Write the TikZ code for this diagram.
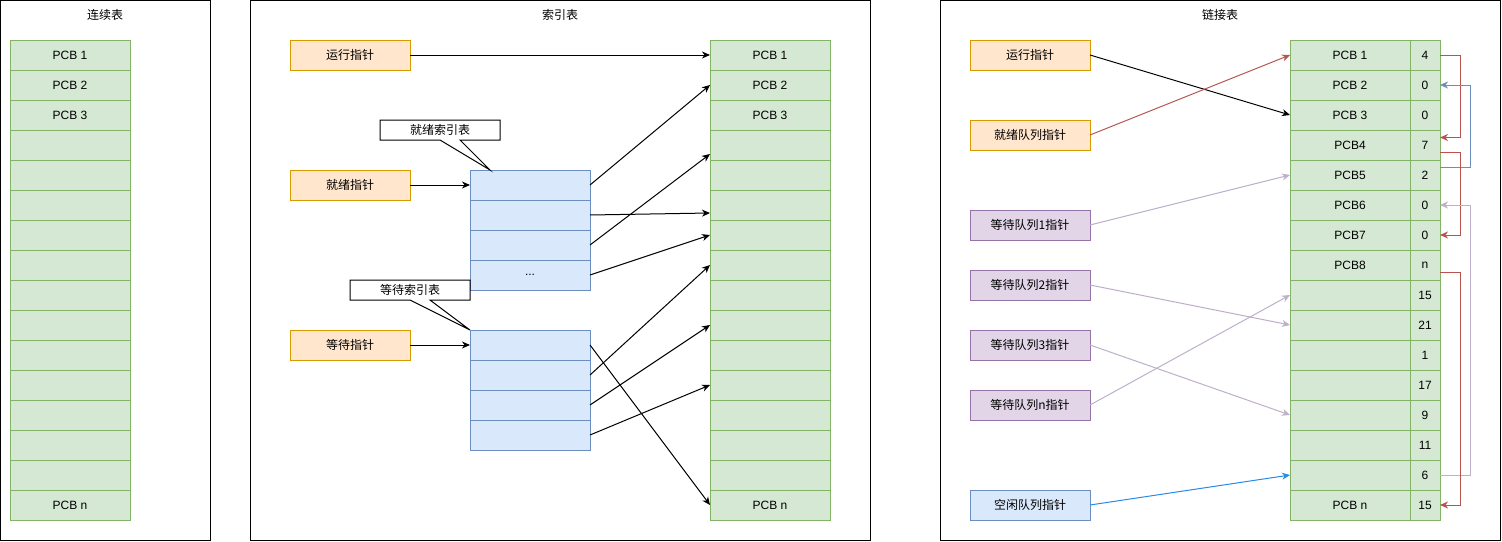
\documentclass[tikz,border=0pt]{standalone}
\usepackage{fontspec}
\setmainfont{Liberation Sans}
\newfontfamily\cjk{Noto Sans CJK SC}
\usetikzlibrary{arrows.meta,calc}
\definecolor{gfill}{HTML}{D5E8D4}
\definecolor{gline}{HTML}{82B366}
\definecolor{ofill}{HTML}{FFE6CC}
\definecolor{oline}{HTML}{D79B00}
\definecolor{pfill}{HTML}{E1D5E7}
\definecolor{pline}{HTML}{9673A6}
\definecolor{bfill}{HTML}{DAE8FC}
\definecolor{bline}{HTML}{6C8EBF}
\definecolor{redc}{HTML}{B85450}
\definecolor{lavc}{RGB}{190,176,202}
\definecolor{freec}{RGB}{40,140,230}
\tikzset{
  panel/.style={draw=black, line width=1pt, fill=white, inner sep=0, outer sep=0, minimum height=540},
  cell/.style={draw=gline, fill=gfill, line width=1pt, inner sep=0, outer sep=0, minimum width=120, minimum height=30},
  vcell/.style={cell, minimum width=30},
  ptr/.style={line width=1pt, inner sep=0, outer sep=0, minimum width=120, minimum height=30},
  optr/.style={ptr, draw=oline, fill=ofill},
  pptr/.style={ptr, draw=pline, fill=pfill},
  bptr/.style={ptr, draw=bline, fill=bfill},
  icell/.style={draw=bline, fill=bfill, line width=1pt, inner sep=0, outer sep=0, minimum width=120, minimum height=30},
  callout/.style={inner sep=0, outer sep=0, minimum width=120, minimum height=20},
  conn/.style={line width=1pt, -{Stealth[length=8pt,width=7pt,inset=2.5pt]}},
}
\begin{document}
\begin{tikzpicture}[x=1pt,y=-1pt,font=\fontsize{12}{14}\selectfont]
\useasboundingbox (0,0) rectangle (1502,541);
% panels
\node[panel, minimum width=210] (P1) at (105,270) {};
\node[panel, minimum width=620] (P2) at (560,270) {};
\node[panel, minimum width=560] (P3) at (1220,270) {};
\node (T1) at (105,15) {\cjk 连续表};
\node (T2) at (560,15) {\cjk 索引表};
\node (T3) at (1220,15) {\cjk 链接表};
% left column
\foreach \t [count=\i] in {PCB 1,PCB 2,PCB 3,{},{},{},{},{},{},{},{},{},{},{},{},PCB n}
  \node[cell] (L\i) at (70,{55+30*(\i-1)}) {\t};
% middle column
\foreach \t [count=\i] in {PCB 1,PCB 2,PCB 3,{},{},{},{},{},{},{},{},{},{},{},{},PCB n}
  \node[cell] (M\i) at (770,{55+30*(\i-1)}) {\t};
% right column
\foreach \t [count=\i] in {PCB 1,PCB 2,PCB 3,PCB4,PCB5,PCB6,PCB7,PCB8,{},{},{},{},{},{},{},PCB n}
  \node[cell] (N\i) at (1350,{55+30*(\i-1)}) {\t};
\foreach \v [count=\i] in {4,0,0,7,2,0,0,n,15,21,1,17,9,11,6,15}
  \node[vcell] (V\i) at (1425,{55+30*(\i-1)}) {\v};
% middle pointers
\node[optr] (mrun) at (350,55) {\cjk 运行指针};
\node[optr] (mready) at (350,185) {\cjk 就绪指针};
\node[optr] (mwait) at (350,345) {\cjk 等待指针};
% index tables
\foreach \i in {1,...,4} {
  \node[icell] (R\i) at (530,{185+30*(\i-1)}) {};
  \node[icell] (W\i) at (530,{345+30*(\i-1)}) {};
}
\node at (R4) {...};
% callouts
\node[callout] (c1) at (440,130) {\cjk 就绪索引表};
\draw[line width=1pt] (c1.north west) -- (c1.north east) -- (c1.south east)
  -- ($(c1.south west)+(80,0)$) -- ($(R1.north west)+(20,0)$)
  -- ($(c1.south west)+(60,0)$) -- (c1.south west) -- cycle;
\node[callout] (c2) at (410,290) {\cjk 等待索引表};
\draw[line width=1pt] (c2.north west) -- (c2.north east) -- (c2.south east)
  -- ($(c2.south west)+(80,0)$) -- (W1.north west)
  -- ($(c2.south west)+(60,0)$) -- (c2.south west) -- cycle;
% middle arrows
\draw[conn] (mrun.east) -- (M1.west);
\draw[conn] (mready.east) -- (R1.west);
\draw[conn] (mwait.east) -- (W1.west);
\draw[conn] (R1.east) -- (M2.west);
\draw[conn] (R2.east) -- ($(M6.west)+(0,8)$);
\draw[conn] (R3.east) -- ($(M4.west)+(0,9)$);
\draw[conn] (R4.east) -- (M7.west);
\draw[conn] (W1.east) -- (M16.west);
\draw[conn] (W2.east) -- (M8.west);
\draw[conn] (W3.east) -- (M10.west);
\draw[conn] (W4.east) -- (M12.west);
% right pointers
\node[optr] (rrun) at (1030,55) {\cjk 运行指针};
\node[optr] (rready) at (1030,135) {\cjk 就绪队列指针};
\node[pptr] (rw1) at (1030,225) {\cjk 等待队列1指针};
\node[pptr] (rw2) at (1030,285) {\cjk 等待队列2指针};
\node[pptr] (rw3) at (1030,345) {\cjk 等待队列3指针};
\node[pptr] (rwn) at (1030,405) {\cjk 等待队列n指针};
\node[bptr] (rfree) at (1030,505) {\cjk 空闲队列指针};
% right arrows
\draw[conn] (rrun.east) -- (N3.west);
\draw[conn, draw=redc] (rready.east) -- (N1.west);
\draw[conn, draw=lavc] (rw1.east) -- (N5.west);
\draw[conn, draw=lavc] (rw2.east) -- (N10.west);
\draw[conn, draw=lavc] (rw3.east) -- (N13.west);
\draw[conn, draw=lavc] (rwn.east) -- (N9.west);
\draw[conn, draw=freec] (rfree.east) -- (N15.west);
% linked-list connectors
\draw[conn, draw=redc] (V1.east) -- ++(20,0) |- ($(V4.east)+(0,-7.5)$);
\draw[conn, draw=bline] ($(V5.east)+(0,-7.5)$) -- ++(30,0) |- (V2.east);
\draw[conn, draw=redc] ($(V4.east)+(0,7.5)$) -- ++(20,0) |- (V7.east);
\draw[conn, draw=lavc] (V15.east) -- ++(30,0) |- (V6.east);
\draw[conn, draw=redc] ($(V8.east)+(0,7.5)$) -- ++(20,0) |- (V16.east);
\end{tikzpicture}
\end{document}
